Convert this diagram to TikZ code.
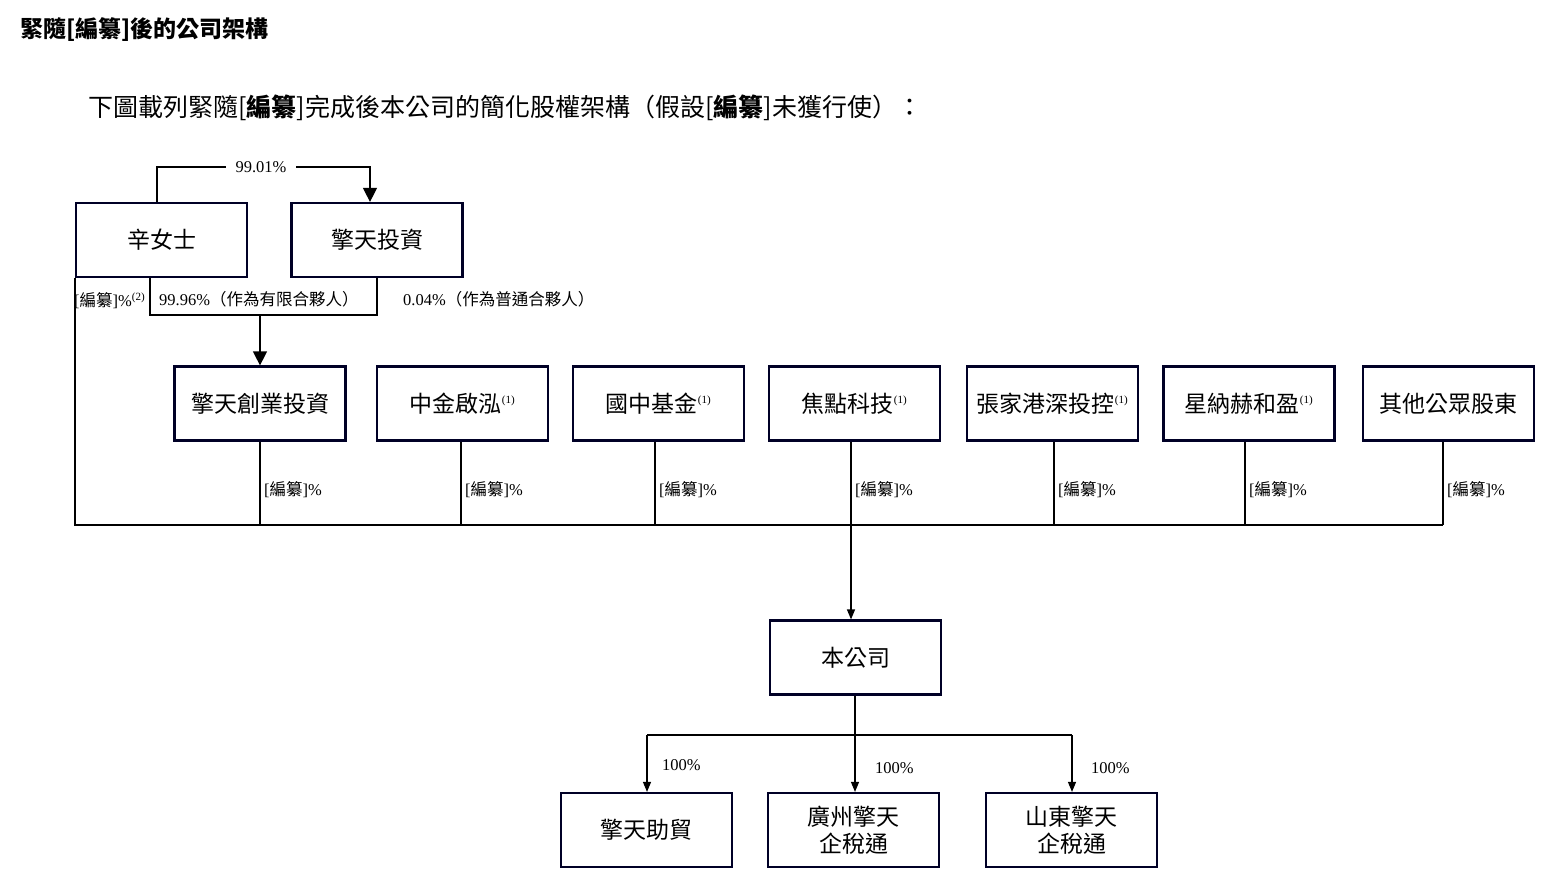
\documentclass[tikz,border=0pt]{standalone}
\usepackage{fontspec}
\setmainfont{Liberation Serif}
\newfontfamily\cjk{Noto Sans CJK TC}
\usetikzlibrary{arrows.meta}
\newcommand\mysp[1]{\textsuperscript{\fontsize{11}{12}\selectfont(#1)}}
\begin{document}
\begin{tikzpicture}[x=1pt,y=-1pt,
 box/.style={draw=black!85!blue,line width=2.2pt,minimum width=171pt,minimum height=74pt,inner sep=0pt,font=\cjk\fontsize{23}{27}\selectfont,align=center},
 ln/.style={line width=1.2pt},
 arr/.style={ln,-{Triangle[length=14pt,width=14pt]}},
 sarr/.style={ln,-{Triangle[length=10pt,width=8pt]}},
 lab/.style={font=\fontsize{16.5}{19}\selectfont,inner sep=1pt,anchor=west}]
\useasboundingbox (0,0) rectangle (1563,885);
\node[anchor=west,inner sep=0pt,font=\cjk\bfseries\fontsize{23}{27}\selectfont] (t1) at (20,30) {緊隨[編纂]後的公司架構};
\node[anchor=west,inner sep=0pt,font=\cjk\fontsize{25}{30}\selectfont] (t2) at (88,108) {下圖載列緊隨[{\bfseries 編纂}]完成後本公司的簡化股權架構（假設[{\bfseries 編纂}]未獲行使）：};
\node[box] (xin) at (161.5,240) {辛女士};
\node[box] (qt) at (377,240) {擎天投資};
\node[box] (cy) at (260,403.5) {擎天創業投資};
\node[box] (zj) at (462.5,403.5) {中金啟泓{\rmfamily\mysp1}};
\node[box] (gz) at (658.5,403.5) {國中基金{\rmfamily\mysp1}};
\node[box] (jd) at (854.5,403.5) {焦點科技{\rmfamily\mysp1}};
\node[box] (zjg) at (1052.5,403.5) {張家港深投控{\rmfamily\mysp1}};
\node[box] (xn) at (1249,403.5) {星納赫和盈{\rmfamily\mysp1}};
\node[box] (qt2) at (1448.5,403.5) {其他公眾股東};
\node[box] (bgs) at (855.5,657.5) {本公司};
\node[box] (zm) at (646.5,830) {擎天助貿};
\node[box] (gzq) at (853.5,830) {廣州擎天\\企稅通};
\node[box] (sd) at (1071.5,830) {山東擎天\\企稅通};
% top
\draw[arr] (xin.north -| 157,0) |- (370,167) -- (qt.north -| 370,0);
\node[lab,anchor=center,fill=white,inner xsep=10pt] (l1) at (261,167) {99.01\%};
\draw[ln] (xin.south -| 150,0) |- (377,315) -- (qt.south);
\draw[arr] (260,315) -- (cy.north);
\node[lab] (l2) at (73,301) {[{\cjk 編纂}]\%\mysp2};
\node[lab] (l3) at (158,299) {99.96\%{\cjk（作為有限合夥人）}};
\node[lab] (l4) at (402,299) {0.04\%{\cjk（作為普通合夥人）}};
% bus
\draw[ln] (xin.south -| 75,0) -- (75,525) -- (1443,525);
\foreach \n/\x in {cy/260,zj/461,gz/655,jd/851,zjg/1054,xn/1245,qt2/1443}{
  \draw[ln] (\n.south -| \x,0) -- (\x,525);
  \node[lab] at (\x+3,490) {[{\cjk 編纂}]\%};
}
\draw[sarr] (851,525) -- (bgs.north -| 851,0);
% bottom
\coordinate (j) at (855,735);
\draw[ln] (bgs.south -| 855,0) -- (j);
\draw[ln] (647,735) -- (1072,735);
\draw[sarr] (647,735) -- (zm.north -| 647,0);
\draw[sarr] (855,735) -- (gzq.north -| 855,0);
\draw[sarr] (1072,735) -- (sd.north -| 1072,0);
\node[lab] at (661,765) {100\%};
\node[lab] at (874,768) {100\%};
\node[lab] at (1090,768) {100\%};
\end{tikzpicture}
\end{document}
